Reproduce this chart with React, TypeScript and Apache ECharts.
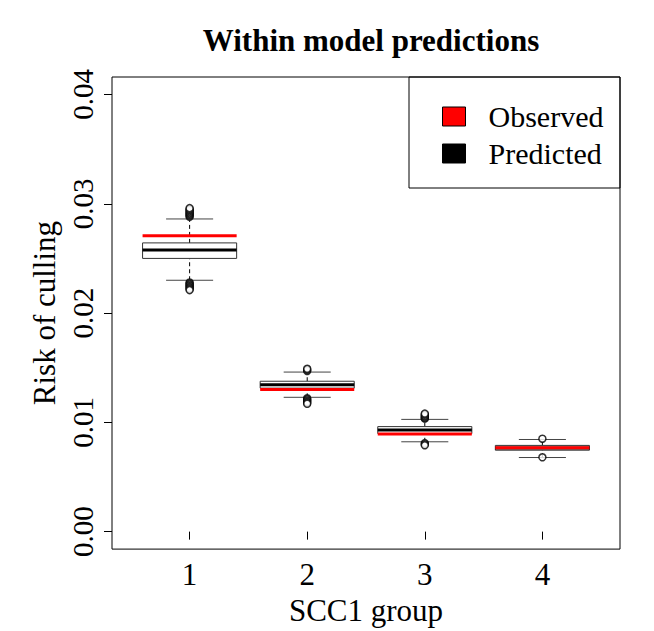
import React, { useEffect, useRef } from "react";
import * as echarts from "echarts";

const groups = [1, 2, 3, 4];
const groupLabels = ["1", "2", "3", "4"];
const whiskerLow = [0.0230, 0.01229, 0.00822, 0.00678];
const q1 = [0.0250, 0.01313, 0.00897, 0.00745];
const median = [0.02576, 0.01345, 0.00929, 0.00766];
const q3 = [0.02642, 0.01376, 0.00961, 0.00789];
const whiskerHigh = [0.02861, 0.0146, 0.01027, 0.00843];
const observed = [0.02708, 0.0130, 0.00893, 0.00768];
const outliers1 = [0.0288, 0.0289, 0.029, 0.0291, 0.0292, 0.0293, 0.0294, 0.0295, 0.0296, 0.0228, 0.0227, 0.0226, 0.0225, 0.0224, 0.0223, 0.0222, 0.0221];
const outliers2 = [0.0147, 0.0148, 0.0149, 0.0122, 0.0121, 0.012, 0.0119, 0.0118, 0.0117];
const outliers3 = [0.01035, 0.0104, 0.0105, 0.0106, 0.0107, 0.0108, 0.0081, 0.008, 0.0079];
const outliers4 = [0.0085, 0.0068];
const yTicks = [0, 0.01, 0.02, 0.03, 0.04];

const FONT = "'Liberation Serif', 'Times New Roman', serif";

export default function App() {
  const ref = useRef<HTMLDivElement>(null);
  useEffect(() => {
    if (!ref.current) return;
    const chart = echarts.init(ref.current, undefined, { renderer: "svg" });
    const boxData = groups.map((g, i) => [g, whiskerLow[i], q1[i], median[i], q3[i], whiskerHigh[i]]);
    const obsData = groups.map((g, i) => [g, observed[i]]);
    const outlierLists = [outliers1, outliers2, outliers3, outliers4];
    const outData: number[][] = [];
    outlierLists.forEach((list, i) => list.forEach((v) => outData.push([groups[i], v])));

    chart.setOption({
      animation: false,
      title: {
        text: "Within model predictions",
        left: 366,
        top: 20,
        textAlign: "center",
        textStyle: { fontFamily: FONT, fontSize: 31, fontWeight: "bold", color: "#000" },
      },
      grid: { left: 112, top: 77, right: 34, bottom: 76, show: true, borderColor: "#000", borderWidth: 1, backgroundColor: "transparent" },
      legend: {
        orient: "vertical",
        left: 437,
        top: 93,
        itemWidth: 23,
        itemHeight: 19,
        itemGap: 0,
        icon: "rect",
        selectedMode: false,
        data: ["Observed", "Predicted"],
        itemStyle: { borderColor: "#000", borderWidth: 1 },
        textStyle: { fontFamily: FONT, fontSize: 30, color: "#000", lineHeight: 37, padding: [0, 0, 0, 18] },
      },
      graphic: [
        { type: "rect", shape: { x: 409, y: 77, width: 211, height: 111 }, style: { fill: "none", stroke: "#000", lineWidth: 1 }, z: 10 },
      ],
      xAxis: {
        type: "value",
        min: 0.34,
        max: 4.66,
        name: "SCC1 group",
        nameLocation: "middle",
        nameGap: 45,
        nameTextStyle: { fontFamily: FONT, fontSize: 31, color: "#000" },
        axisLine: { show: false },
        splitLine: { show: false },
        axisTick: { show: true, length: 8, customValues: groups, lineStyle: { color: "#000" } },
        axisLabel: {
          customValues: groups,
          margin: 10,
          fontFamily: FONT,
          fontSize: 31,
          color: "#000",
          formatter: (v: number) => groupLabels[groups.indexOf(v)] ?? "",
        },
      },
      yAxis: {
        type: "value",
        min: -0.0016,
        max: 0.0416,
        name: "Risk of culling",
        nameLocation: "middle",
        nameGap: 50,
        nameTextStyle: { fontFamily: FONT, fontSize: 31, color: "#000" },
        axisLine: { show: false },
        splitLine: { show: false },
        axisTick: { show: true, length: 8, customValues: yTicks, lineStyle: { color: "#000" } },
        axisLabel: {
          customValues: yTicks,
          rotate: 90,
          margin: 15,
          fontFamily: FONT,
          fontSize: 29,
          color: "#000",
          formatter: (v: number) => v.toFixed(2),
        },
      },
      series: [
        {
          name: "Predicted",
          type: "custom",
          itemStyle: { color: "#000" },
          encode: { x: 0, y: [1, 2, 3, 4, 5] },
          data: boxData,
          z: 2,
          renderItem: (params: any, api: any) => {
            const x = api.value(0);
            const lo = api.coord([x, api.value(1)]);
            const p1 = api.coord([x, api.value(2)]);
            const pm = api.coord([x, api.value(3)]);
            const p3 = api.coord([x, api.value(4)]);
            const hi = api.coord([x, api.value(5)]);
            const half = api.size([0.4, 0])[0];
            const cap = api.size([0.2, 0])[0];
            const cx = lo[0];
            return {
              type: "group",
              children: [
                { type: "line", shape: { x1: cx, y1: lo[1], x2: cx, y2: p1[1] }, style: { stroke: "#000", lineWidth: 1, lineDash: [4, 3] } },
                { type: "line", shape: { x1: cx, y1: p3[1], x2: cx, y2: hi[1] }, style: { stroke: "#000", lineWidth: 1, lineDash: [4, 3] } },
                { type: "line", shape: { x1: cx - cap, y1: lo[1], x2: cx + cap, y2: lo[1] }, style: { stroke: "#444", lineWidth: 1 } },
                { type: "line", shape: { x1: cx - cap, y1: hi[1], x2: cx + cap, y2: hi[1] }, style: { stroke: "#444", lineWidth: 1 } },
                { type: "rect", shape: { x: cx - half, y: p3[1], width: 2 * half, height: p1[1] - p3[1] }, style: { fill: "#fff", stroke: "#333", lineWidth: 1 } },
                { type: "line", shape: { x1: cx - half, y1: pm[1], x2: cx + half, y2: pm[1] }, style: { stroke: "#000", lineWidth: 3 } },
              ],
            };
          },
        },
        {
          name: "Outliers",
          type: "scatter",
          data: outData,
          symbol: "circle",
          symbolSize: 7,
          itemStyle: { color: "#fff", borderColor: "#000", borderWidth: 1.5 },
          z: 3,
        },
        {
          name: "Observed",
          type: "custom",
          itemStyle: { color: "#ff0000" },
          encode: { x: 0, y: 1 },
          data: obsData,
          z: 4,
          renderItem: (params: any, api: any) => {
            const x = api.value(0);
            const p = api.coord([x, api.value(1)]);
            const half = api.size([0.4, 0])[0];
            return {
              type: "line",
              shape: { x1: p[0] - half, y1: p[1], x2: p[0] + half, y2: p[1] },
              style: { stroke: "#ff0000", lineWidth: 3 },
            };
          },
        },
      ],
    });
    return () => chart.dispose();
  }, []);
  return <div ref={ref} style={{ width: 654, height: 631, position: "absolute", left: 0, top: 0, background: "#fff" }} />;
}
